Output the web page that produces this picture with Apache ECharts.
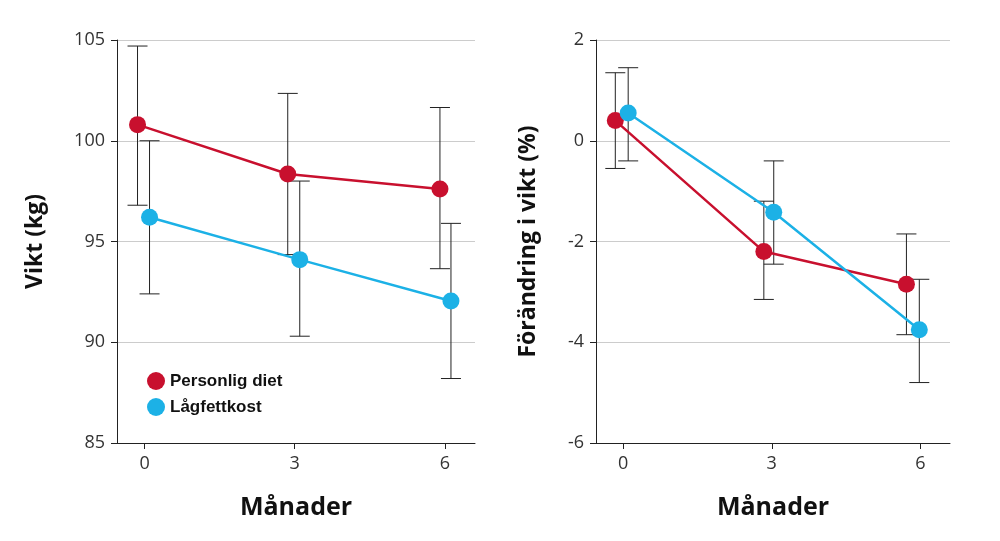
<!DOCTYPE html>
<html><head><meta charset="utf-8">
<script src="https://cdn.jsdelivr.net/npm/echarts@6/dist/echarts.min.js"></script>
<style>html,body{margin:0;background:#fff}#c{width:1000px;height:541px}</style>
</head><body><div id="c"></div>
<script>
const months = [0, 3, 6];
// left: weight (kg)
const redXL = [-0.14, 2.86, 5.9];
const blueXL = [0.1, 3.1, 6.12];
const redKg = [100.8, 98.35, 97.6];
const redKgLo = [96.8, 94.35, 93.65];
const redKgHi = [104.7, 102.35, 101.65];
const blueKg = [96.2, 94.1, 92.05];
const blueKgLo = [92.4, 90.3, 88.2];
const blueKgHi = [100.0, 98.0, 95.9];
// right: change (%)
const redXR = [-0.16, 2.84, 5.72];
const blueXR = [0.1, 3.04, 5.98];
const redPct = [0.4, -2.2, -2.85];
const redPctLo = [-0.55, -3.15, -3.85];
const redPctHi = [1.35, -1.2, -1.85];
const bluePct = [0.55, -1.42, -3.75];
const bluePctLo = [-0.4, -2.45, -4.8];
const bluePctHi = [1.45, -0.4, -2.75];

const RED = '#c8102e', BLUE = '#1cb1e6';
const font = 'Liberation Sans';

function errSeries(idx, xs, lo, hi) {
  return {
    type: 'custom', xAxisIndex: idx, yAxisIndex: idx, z: 1, silent: true,
    data: xs.map((x, i) => [x, lo[i], hi[i]]),
    renderItem(params, api) {
      const a = api.coord([api.value(0), api.value(1)]);
      const b = api.coord([api.value(0), api.value(2)]);
      const w = 10;
      const st = { stroke: '#222', lineWidth: 1 };
      return { type: 'group', children: [
        { type: 'line', shape: { x1: a[0], y1: a[1], x2: b[0], y2: b[1] }, style: st },
        { type: 'line', shape: { x1: a[0] - w, y1: a[1], x2: a[0] + w, y2: a[1] }, style: st },
        { type: 'line', shape: { x1: b[0] - w, y1: b[1], x2: b[0] + w, y2: b[1] }, style: st }
      ]};
    }
  };
}
function line(idx, name, xs, ys, color) {
  return {
    type: 'line', name, xAxisIndex: idx, yAxisIndex: idx, z: 3,
    data: xs.map((x, i) => [x, ys[i]]),
    symbol: 'circle', symbolSize: 17,
    lineStyle: { color, width: 2.5 }, itemStyle: { color }
  };
}
function xAxis(idx) {
  return {
    type: 'value', gridIndex: idx, min: -0.55, max: 6.6,
    name: 'Månader', nameLocation: 'middle', nameGap: 52,
    nameTextStyle: { fontFamily: 'Open Sans', fontWeight: 'bold', fontSize: 25, color: '#111' },
    axisLine: { onZero: false, lineStyle: { color: '#222' } },
    axisTick: { customValues: months, length: 6, lineStyle: { color: '#222' } },
    axisLabel: { customValues: months, fontFamily: 'Open Sans', fontSize: 18, color: '#333', margin: 12 },
    splitLine: { show: false }
  };
}
function yAxis(idx, min, max, interval, name, gap) {
  return {
    type: 'value', gridIndex: idx, min, max, interval,
    name, nameLocation: 'middle', nameGap: gap, nameRotate: 90,
    nameTextStyle: { fontFamily: 'Open Sans', fontWeight: 'bold', fontSize: 23, color: '#111' },
    axisLine: { show: true, onZero: false, lineStyle: { color: '#222' } },
    axisTick: { show: true, length: 6, lineStyle: { color: '#222' } },
    axisLabel: { fontFamily: 'Open Sans', fontSize: 18, color: '#333', margin: 12 },
    splitLine: { show: true, lineStyle: { color: '#ccc' } }
  };
}

const chart = echarts.init(document.getElementById('c'));
chart.setOption({
  animation: false,
  grid: [
    { left: 117, right: 525, top: 40, bottom: 98 },
    { left: 596, right: 50, top: 40, bottom: 98 }
  ],
  xAxis: [xAxis(0), xAxis(1)],
  yAxis: [yAxis(0, 85, 105, 5, 'Vikt (kg)', 70), yAxis(1, -6, 2, 2, 'Förändring i vikt (%)', 56)],
  legend: {
    data: ['Personlig diet', 'Lågfettkost'], orient: 'vertical', left: 142, top: 367,
    icon: 'circle', itemWidth: 18, itemHeight: 18, itemGap: 8,
    textStyle: { fontFamily: font, fontWeight: 'bold', fontSize: 17, color: '#111' }
  },
  series: [
    errSeries(0, redXL, redKgLo, redKgHi),
    errSeries(0, blueXL, blueKgLo, blueKgHi),
    line(0, 'Personlig diet', redXL, redKg, RED),
    line(0, 'Lågfettkost', blueXL, blueKg, BLUE),
    errSeries(1, redXR, redPctLo, redPctHi),
    errSeries(1, blueXR, bluePctLo, bluePctHi),
    line(1, 'Personlig diet', redXR, redPct, RED),
    line(1, 'Lågfettkost', blueXR, bluePct, BLUE)
  ]
});
</script></body></html>
